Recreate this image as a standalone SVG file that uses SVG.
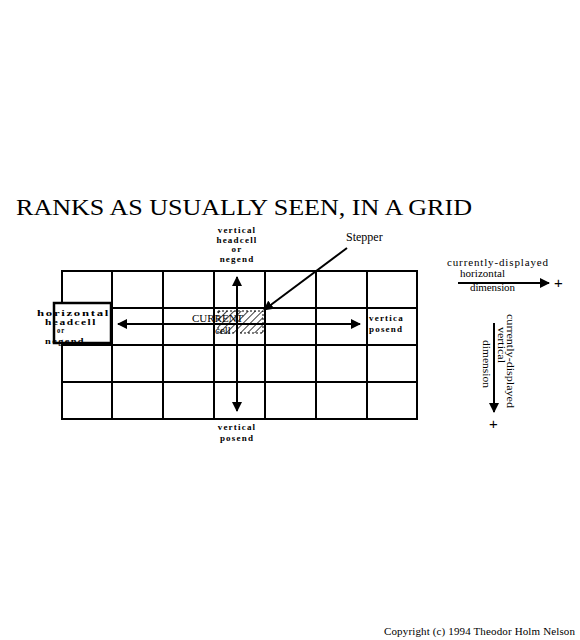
<svg xmlns="http://www.w3.org/2000/svg" width="580" height="640" viewBox="0 0 580 640">
<style>
.g{stroke:#000;stroke-width:2;fill:none}
.l{font-family:"Liberation Serif",serif;font-weight:bold;font-size:9px;letter-spacing:1.2px;fill:#000}
.s{font-family:"Liberation Serif",serif;font-size:11px;fill:#000}
.ar{stroke:#000;stroke-width:2;fill:none}
</style>
<defs>
<marker id="ah" viewBox="0 0 10 10" refX="9" refY="5" markerWidth="5" markerHeight="5" orient="auto" markerUnits="strokeWidth"><path d="M0,0L10,5L0,10z" fill="#000"/></marker>
<pattern id="hatch" width="5" height="5" patternUnits="userSpaceOnUse" patternTransform="rotate(45)"><line x1="0" y1="0" x2="0" y2="5" stroke="#000" stroke-width="1.5"/></pattern>
</defs>
<rect width="580" height="640" fill="#fff"/>
<text x="16" y="215" font-family="Liberation Serif,serif" font-size="24" textLength="456" lengthAdjust="spacingAndGlyphs">RANKS AS USUALLY SEEN, IN A GRID</text>
<g id="grid">
<rect class="g" x="62" y="271" width="355" height="148"/>
<path class="g" d="M112,271V419M163,271V419M214,271V419M265,271V419M316,271V419M367,271V419M62,308H417M62,345H417M62,382H417"/>
</g>
<g id="current-cell">
<text class="s" x="192" y="322" font-size="12">CURRENT</text>
<text class="s" x="215" y="334" font-size="9">cell</text>
<rect x="218" y="311" width="45" height="22" fill="url(#hatch)" stroke="#000" stroke-width="1" stroke-dasharray="2,2"/>
</g>
<g id="horizontal-headcell">
<rect x="54" y="303" width="57" height="40" fill="#fff" stroke="#000" stroke-width="2.5"/>
<text class="l" x="37" y="316" textLength="73" lengthAdjust="spacingAndGlyphs">horizontal</text>
<text class="l" x="45" y="324.5" textLength="52" lengthAdjust="spacingAndGlyphs">headcell</text>
<text class="l" x="57" y="333" font-size="7" textLength="8" lengthAdjust="spacingAndGlyphs">or</text>
<text class="l" x="45" y="343.5" textLength="40" lengthAdjust="spacingAndGlyphs">negend</text>
</g>
<g id="vertical-headcell">
<text class="l" x="237" y="233" text-anchor="middle">vertical</text>
<text class="l" x="237" y="243" text-anchor="middle">headcell</text>
<text class="l" x="237" y="252" text-anchor="middle">or</text>
<text class="l" x="237" y="262" text-anchor="middle">negend</text>
</g>
<g id="vertical-posend-right">
<text class="l" x="369" y="321">vertica</text>
<text class="l" x="369" y="332">posend</text>
</g>
<g id="vertical-posend-bottom">
<text class="l" x="237" y="430" text-anchor="middle">vertical</text>
<text class="l" x="237" y="441" text-anchor="middle">posend</text>
</g>
<g id="stepper">
<text x="346" y="241" font-family="Liberation Serif,serif" font-size="12">Stepper</text>
</g>
<g id="connectors">
<line class="ar" x1="237" y1="324" x2="237" y2="277" marker-end="url(#ah)"/>
<line class="ar" x1="237" y1="324" x2="237" y2="411" marker-end="url(#ah)"/>
<line class="ar" x1="237" y1="324" x2="118" y2="324" marker-end="url(#ah)"/>
<line class="ar" x1="237" y1="324" x2="360" y2="324" marker-end="url(#ah)"/>
<line class="ar" x1="347" y1="248" x2="264" y2="310" marker-end="url(#ah)"/>
<line class="ar" x1="458" y1="283" x2="549" y2="283" marker-end="url(#ah)"/>
<line class="ar" x1="494" y1="323" x2="494" y2="412" marker-end="url(#ah)"/>
</g>
<g id="legend-h">
<text class="s" x="447" y="266" font-size="10.5" textLength="101">currently-displayed</text>
<text class="s" x="460" y="277" font-size="10.5" textLength="45">horizontal</text>
<text class="s" x="470" y="291" font-size="10.5" textLength="45">dimension</text>
<text x="554" y="288" font-family="Liberation Sans,sans-serif" font-size="15">+</text>
</g>
<g id="legend-v">
<text class="s" font-size="10.5" textLength="94" lengthAdjust="spacingAndGlyphs" transform="translate(507,314) rotate(90)">currently-displayed</text>
<text class="s" font-size="10.5" textLength="36" lengthAdjust="spacingAndGlyphs" transform="translate(497.5,327) rotate(90)">vertical</text>
<text class="s" font-size="10.5" textLength="48" lengthAdjust="spacingAndGlyphs" transform="translate(483,340) rotate(90)">dimension</text>
<text x="489" y="429" font-family="Liberation Sans,sans-serif" font-size="15">+</text>
</g>
<text class="s" x="384" y="635" font-size="10.5" textLength="191">Copyright (c) 1994 Theodor Holm Nelson</text>
</svg>
